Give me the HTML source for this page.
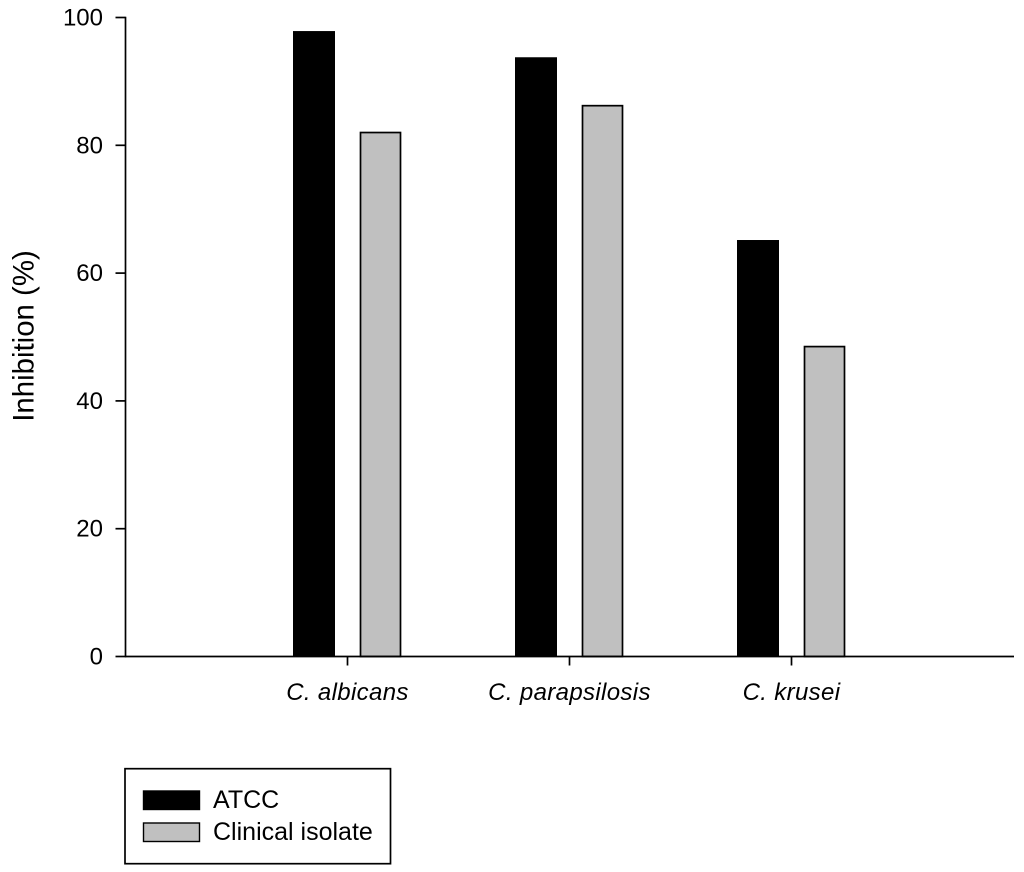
<!DOCTYPE html>
<html>
<head>
<meta charset="utf-8">
<style>
html,body{margin:0;padding:0;background:#fff;}
svg{display:block;filter:blur(0.35px);}
text{font-family:"Liberation Sans",Arial,sans-serif;fill:#000;}
</style>
</head>
<body>
<svg id="chart" width="1024" height="872" viewBox="0 0 1024 872" xmlns="http://www.w3.org/2000/svg"></svg>
<script>
const categories = ["C. albicans", "C. parapsilosis", "C. krusei"];
const seriesNames = ["ATCC", "Clinical isolate"];
const atccValues = [97.8, 93.7, 65.1];
const clinicalValues = [82.0, 86.2, 48.5];
const yTicks = [0, 20, 40, 60, 80, 100];

const svg = document.getElementById('chart');
const NS = 'http://www.w3.org/2000/svg';
function y(v){ return 656.5 - v * 6.39; }
function x(i){ return 347.5 + i * 222; }
function mk(tag, attrs, parent){
  const el = document.createElementNS(NS, tag);
  for (const k in attrs) el.setAttribute(k, attrs[k]);
  (parent || svg).appendChild(el);
  return el;
}

// bars
atccValues.forEach(function(v, i){
  const b = mk('rect', {x: x(i) - 54, y: y(v), width: 41, height: y(0) - y(v), fill: '#000', stroke: '#000', 'stroke-width': 1});
  
  
});
clinicalValues.forEach(function(v, i){
  const b = mk('rect', {x: x(i) + 13, y: y(v), width: 40, height: y(0) - y(v), fill: '#c0c0c0', stroke: '#000', 'stroke-width': 1.7});
  
  
});

// axes
const yAxis = mk('line', {x1: 125.5, y1: 16.7, x2: 125.5, y2: 657.3, stroke: '#000', 'stroke-width': 1.7});


const xAxis = mk('line', {x1: 125, y1: 656.5, x2: 1014, y2: 656.5, stroke: '#000', 'stroke-width': 1.7});



// y ticks
yTicks.forEach(function(t){
  const tick = mk('line', {x1: 115.5, y1: y(t), x2: 125.5, y2: y(t), stroke: '#000', 'stroke-width': 1.7});
  
  
  const lab = mk('text', {x: 103, y: y(t) + 8, 'text-anchor': 'end', 'font-size': 24});
  lab.textContent = t;
  
  
});

// x ticks and labels
categories.forEach(function(c, i){
  const tick = mk('line', {x1: x(i), y1: 656.5, x2: x(i), y2: 665.5, stroke: '#000', 'stroke-width': 1.7});
  
  
  const lab = mk('text', {x: x(i), y: 700, 'text-anchor': 'middle', 'font-size': 24, 'font-style': 'italic', 'letter-spacing': 0.35});
  lab.textContent = c;
  
  
});

// y axis title
const yTitle = mk('text', {x: 0, y: 0, 'text-anchor': 'middle', 'font-size': 29.4, transform: 'translate(33.5,336) rotate(-90)'});
yTitle.textContent = 'Inhibition (%)';



// legend
const legendBox = mk('rect', {x: 125, y: 768.7, width: 265.5, height: 95, fill: '#fff', stroke: '#000', 'stroke-width': 1.7});


const legendFills = ['#000', '#c0c0c0'];
seriesNames.forEach(function(n, i){
  const sw = mk('rect', {x: 143.5, y: 791 + i * 32, width: 56, height: 18.5, fill: legendFills[i], stroke: '#000', 'stroke-width': 1.4});
  
  
  const t = mk('text', {x: 213, y: 808 + i * 32, 'font-size': 25});
  t.textContent = n;
  
  
});
</script>
</body>
</html>
